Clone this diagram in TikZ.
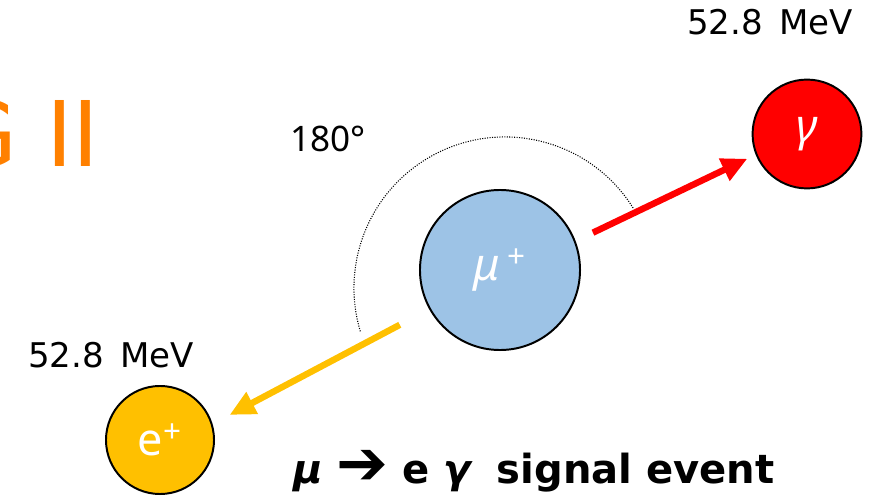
\documentclass[tikz,border=0pt]{standalone}
\usepackage{fontspec}
\setmainfont{DejaVu Sans}
\newfontfamily\notofont{Noto Sans}
\newfontfamily\symfont{DejaVu Sans}
\usepackage{tikz}
\usetikzlibrary{arrows.meta,positioning}
\definecolor{mublue}{HTML}{9DC3E6}
\definecolor{eyellow}{HTML}{FFC000}
\definecolor{megorange}{RGB}{255,128,0}

\begin{document}
\begin{tikzpicture}[x=0.025cm,y=0.025cm,
      particle/.style={circle,draw=black,line width=1.4pt,inner sep=0pt,text=white,
        font=\notofont\fontsize{32}{32}\selectfont},
      track/.style={line width=4.6pt,-{Triangle[length=0.64cm,width=0.58cm]}},
      energy/.style={anchor=base west,inner sep=0pt,font=\fontsize{24.2}{29}\selectfont}]
      \path[use as bounding box,clip] (0,0) rectangle (871,502);

      \node[anchor=base east,inner sep=0pt,text=megorange,
        font=\fontsize{64.4}{70}\selectfont] (title) at (100,335) {G II};

      \node[particle,fill=mublue,minimum size=4cm] (mu) at (500,232)
        {{\itshape μ}\,\textsuperscript{+}};
      \node[particle,fill=red,minimum size=2.72cm] (gam) at (807,368)
        {\itshape γ};
      \node[particle,fill=eyellow,minimum size=2.7cm] (ep) at (160,62)
        {e\textsuperscript{+}};

      \node[energy] (egam) at (687,467) {52.8 \,MeV};
      \node[energy] (eep) at (28,135) {52.8 \,MeV};
      \node[anchor=base west,inner sep=0pt,font=\notofont\fontsize{25}{30}\selectfont]
        (angle) at (290,350) {180°};

      % dotted 180 degree arc round the muon
      \coordinate (arcc) at (505,214);
      \draw[line width=0.75pt,dash pattern=on 0.75pt off 1pt]
        ([shift={(32:3.775cm)}]arcc) arc[start angle=32,end angle=197,radius=3.775cm];

      \draw[track,red,shorten <=0.48cm,shorten >=0.23cm] (mu.21) -- (gam.202);
      \draw[track,eyellow,shorten <=0.83cm,shorten >=0.48cm] (mu.209) -- (ep.17);

      \node[anchor=base west,inner sep=0pt,font=\bfseries\fontsize{28.5}{34}\selectfont]
        (caption) at (293,19)
        {{\itshape μ} \raisebox{-0.04em}{\symfont\mdseries\fontsize{44}{44}\selectfont ➔} e {\itshape γ}\hspace{0.3em} signal event};
    \end{tikzpicture}
\end{document}
